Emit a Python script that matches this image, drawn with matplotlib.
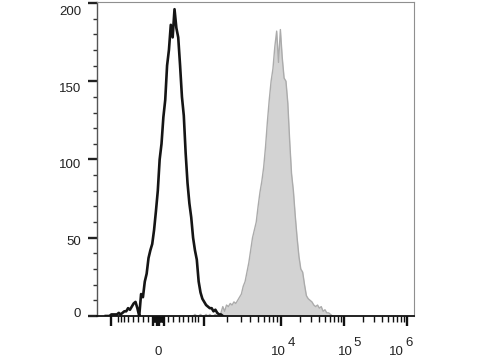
import matplotlib

matplotlib.use("Agg")
import numpy as np
from matplotlib import pyplot as plt
from matplotlib.transforms import ScaledTranslation, blended_transform_factory

plt.rcParams["font.family"] = ["Liberation Sans", "DejaVu Sans"]

# histogram channels (display scale 0..1024), bin width in channels
BIN_WIDTH = 6

# unstained / control histogram (black outline)
control_start = 30
control_counts = [
    0, 0, 0, 1, 1, 1, 1, 2, 1, 2,
    3, 3, 5, 4, 6, 8, 9, 5, 0, 14,
    12, 22, 27, 37, 42, 46, 55, 67, 80, 100,
    110, 127, 138, 160, 170, 186, 178, 196, 184, 178,
    160, 140, 128, 104, 85, 72, 63, 50, 42, 36,
    22, 15, 11, 9, 7, 6, 5, 5, 3, 4,
    2, 1, 1, 0,
]

# stained histogram (grey filled)
stained_start = 300
stained_counts = [
    0, 0, 0, 1, 0, 0, 1, 0, 0, 1, 0, 1, 0, 0, 1, 0,
    0, 2, 6, 3, 7, 6, 8, 7, 9, 8,
    10, 12, 14, 19, 22, 28, 34, 42, 50, 55,
    60, 70, 79, 86, 95, 108, 124, 138, 150, 158,
    172, 182, 162, 183, 165, 152, 150, 136, 112, 91,
    80, 64, 50, 38, 30, 28, 20, 13, 11, 10,
    9, 7, 6, 7, 5, 6, 3, 4, 2, 2,
    1, 0,
]

# axis ticks in display channels (biexponential-like scale)
zero_ch = 199
major_ticks = [46, 181, 197, zero_ch, 201, 217, 348, 595, 800, 1002]
linear_minor = [69, 80, 90, 101, 117, 133, 150, 166,
                183, 185, 187, 188, 190, 192, 194, 195,
                203, 204, 206, 208, 210, 212, 213, 215,
                232, 248, 265, 281, 297, 308, 318, 329]
decades = [(348, 247), (595, 205), (800, 202)]
x_labels = ["0", "10", "10", "10"]
x_label_pos = [199, 588, 803, 970]
sup_labels = ["", "4", "5", "6"]
sup_pos = [0, 618, 829, 997]

y_ticks = [0, 50, 100, 150, 200]
# vertical nudge of each y label, in pixels (reference labels sit off their ticks)
y_label_shift = [3.5, -3, -4, -6, -8]


def main():
    fig = plt.figure(figsize=(4.8, 3.6), dpi=100)
    ax = fig.add_axes([96.5 / 480, 1 - 316 / 360, 317 / 480, 314 / 360])

    xs = stained_start + BIN_WIDTH * np.arange(len(stained_counts))
    ax.fill_between(xs, stained_counts, color="#d3d3d3", linewidth=0)
    ax.plot(xs, stained_counts, color="#ababab", lw=1.0)

    xc = control_start + BIN_WIDTH * np.arange(len(control_counts))
    ax.plot(xc, control_counts, color="#151515", lw=1.9)

    ax.set_xlim(0, 1024)
    ax.set_ylim(0, 200.6)

    minor = list(linear_minor)
    for start, width in decades:
        minor += [start + np.log10(k) * width for k in range(2, 10)]
    ax.set_xticks(major_ticks)
    ax.set_xticklabels([""] * len(major_ticks))
    ax.set_xticks(minor, minor=True)

    ax.set_yticks(y_ticks)
    ax.set_yticks(range(0, 201, 10), minor=True)
    ax.tick_params(axis="x", which="major", length=7.5, width=1.7, color="#111")
    ax.tick_params(axis="x", which="minor", length=4, width=1.0, color="#111")
    ax.tick_params(axis="y", which="major", length=6.5, width=1.7,
                   color="#222", labelsize=9.5, pad=4.5, labelcolor="#222")
    ax.tick_params(axis="y", which="minor", length=3, width=1.0, color="#333")
    for label, dy in zip(ax.get_yticklabels(), y_label_shift):
        label.set_transform(label.get_transform()
                            + ScaledTranslation(0, dy / fig.dpi, fig.dpi_scale_trans))

    trans = blended_transform_factory(ax.transData, ax.transAxes)
    for txt, xp in zip(x_labels, x_label_pos):
        ax.text(xp, -0.125, txt, transform=trans, ha="center", va="baseline",
                fontsize=9.5, color="#222")
    for txt, xp in zip(sup_labels, sup_pos):
        if txt:
            ax.text(xp, -0.0955, txt, transform=trans, ha="left",
                    va="baseline", fontsize=9.5, color="#222")

    for side in ["top", "right"]:
        ax.spines[side].set_color("#8f8f8f")
        ax.spines[side].set_linewidth(0.8)
    ax.spines["left"].set_color("#555")
    ax.spines["left"].set_linewidth(1.0)
    ax.spines["bottom"].set_color("#111")
    ax.spines["bottom"].set_linewidth(1.3)
    return fig


if __name__ == "__main__":
    fig = main()
    fig.savefig("out.png", dpi=100)
